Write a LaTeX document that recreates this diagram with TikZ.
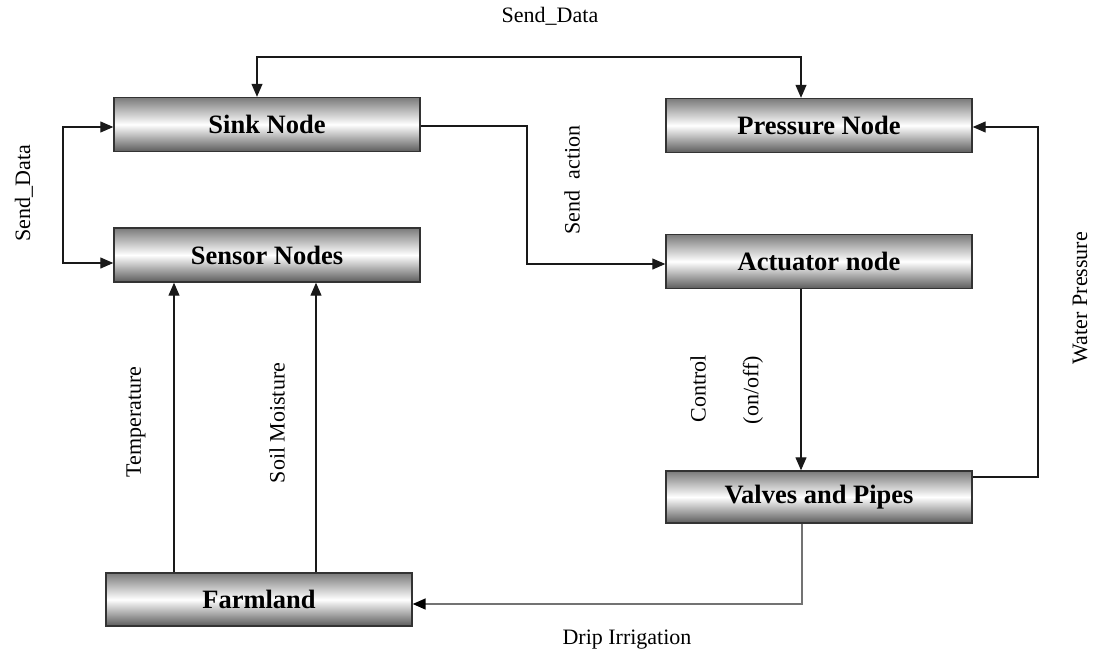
\documentclass[tikz,border=0pt]{standalone}
\usepackage{fontspec}
\setmainfont{Liberation Serif}
\usetikzlibrary{arrows.meta}
\begin{document}
\begin{tikzpicture}[x=1pt,y=-1pt,
  boxnode/.style={draw=black!80, line width=1.4pt, top color=black!52, bottom color=black!64, middle color=white,
    minimum width=306pt, minimum height=54pt, inner sep=0pt,
    font=\fontsize{26.5}{30}\selectfont\bfseries},
  lbl/.style={font=\fontsize{22}{26}\selectfont, inner sep=0pt},
  rlbl/.style={lbl, rotate=90},
  conn/.style={line width=1.2pt, black!90, -{Triangle[length=13pt,width=11pt]}},
  biconn/.style={line width=1.2pt, black!90, {Triangle[length=13pt,width=11pt]}-{Triangle[length=13pt,width=11pt]}},
  grayconn/.style={line width=1.6pt, black!55, -{Triangle[length=13pt,width=11pt,color=black]}}
]
\useasboundingbox (0,0) rectangle (1095,653);
% boxes
\node[boxnode] (sink) at (267,124.5) {Sink Node};
\node[boxnode] (pressure) at (819,125.5) {Pressure Node};
\node[boxnode] (sensor) at (267,255) {Sensor Nodes};
\node[boxnode] (actuator) at (819,261.5) {Actuator node};
\node[boxnode, minimum height=52pt] (valves) at (819,497) {Valves and Pipes};
\node[boxnode, minimum height=53pt] (farmland) at (259,599.5) {Farmland};
% helper coordinates
\coordinate (tl) at (257,57);
\coordinate (tr) at (801,57);
\coordinate (l1) at (63,127);
\coordinate (l2) at (63,263);
\coordinate (s1) at (527,126);
\coordinate (s2) at (527,264);
\coordinate (w1) at (1038,477);
\coordinate (w2) at (1038,127);
\coordinate (d1) at (802,604);
\coordinate (t1) at (174,0);
\coordinate (t2) at (316,0);
% connectors
\draw[biconn] (sink.north -| tl) -- (tl) -- (tr) -- (pressure.north -| tr);
\draw[biconn] (sink.west |- l1) -- (l1) -- (l2) -- (sensor.west |- l2);
\draw[conn] (sink.east |- s1) -- (s1) -- (s2) -- (actuator.west |- s2);
\draw[conn] (actuator.south -| tr) -- (valves.north -| tr);
\draw[conn] (valves.east |- w1) -- (w1) -- (w2) -- (pressure.east |- w2);
\draw[grayconn] (valves.south -| d1) -- (d1) -- (farmland.east |- d1);
\draw[conn] (farmland.north -| t1) -- (sensor.south -| t1);
\draw[conn] (farmland.north -| t2) -- (sensor.south -| t2);
% labels
\node[lbl] (lsendtop) at (550,16) {Send\_Data};
\node[rlbl] (lsendleft) at (24,193) {Send\_Data};
\node[rlbl] (lsendaction) at (572,180) {Send\enspace action};
\node[rlbl] (ltemp) at (136,422) {Temperature};
\node[rlbl] (lsoil) at (277,423) {Soil Moisture};
\node[rlbl] (lcontrol) at (698,389) {Control};
\node[rlbl] (lonoff) at (753,390) {(on/off)};
\node[rlbl] (lwater) at (1080,298) {Water Pressure};
\node[lbl] (ldrip) at (627,640) {Drip Irrigation};
\end{tikzpicture}
\end{document}
